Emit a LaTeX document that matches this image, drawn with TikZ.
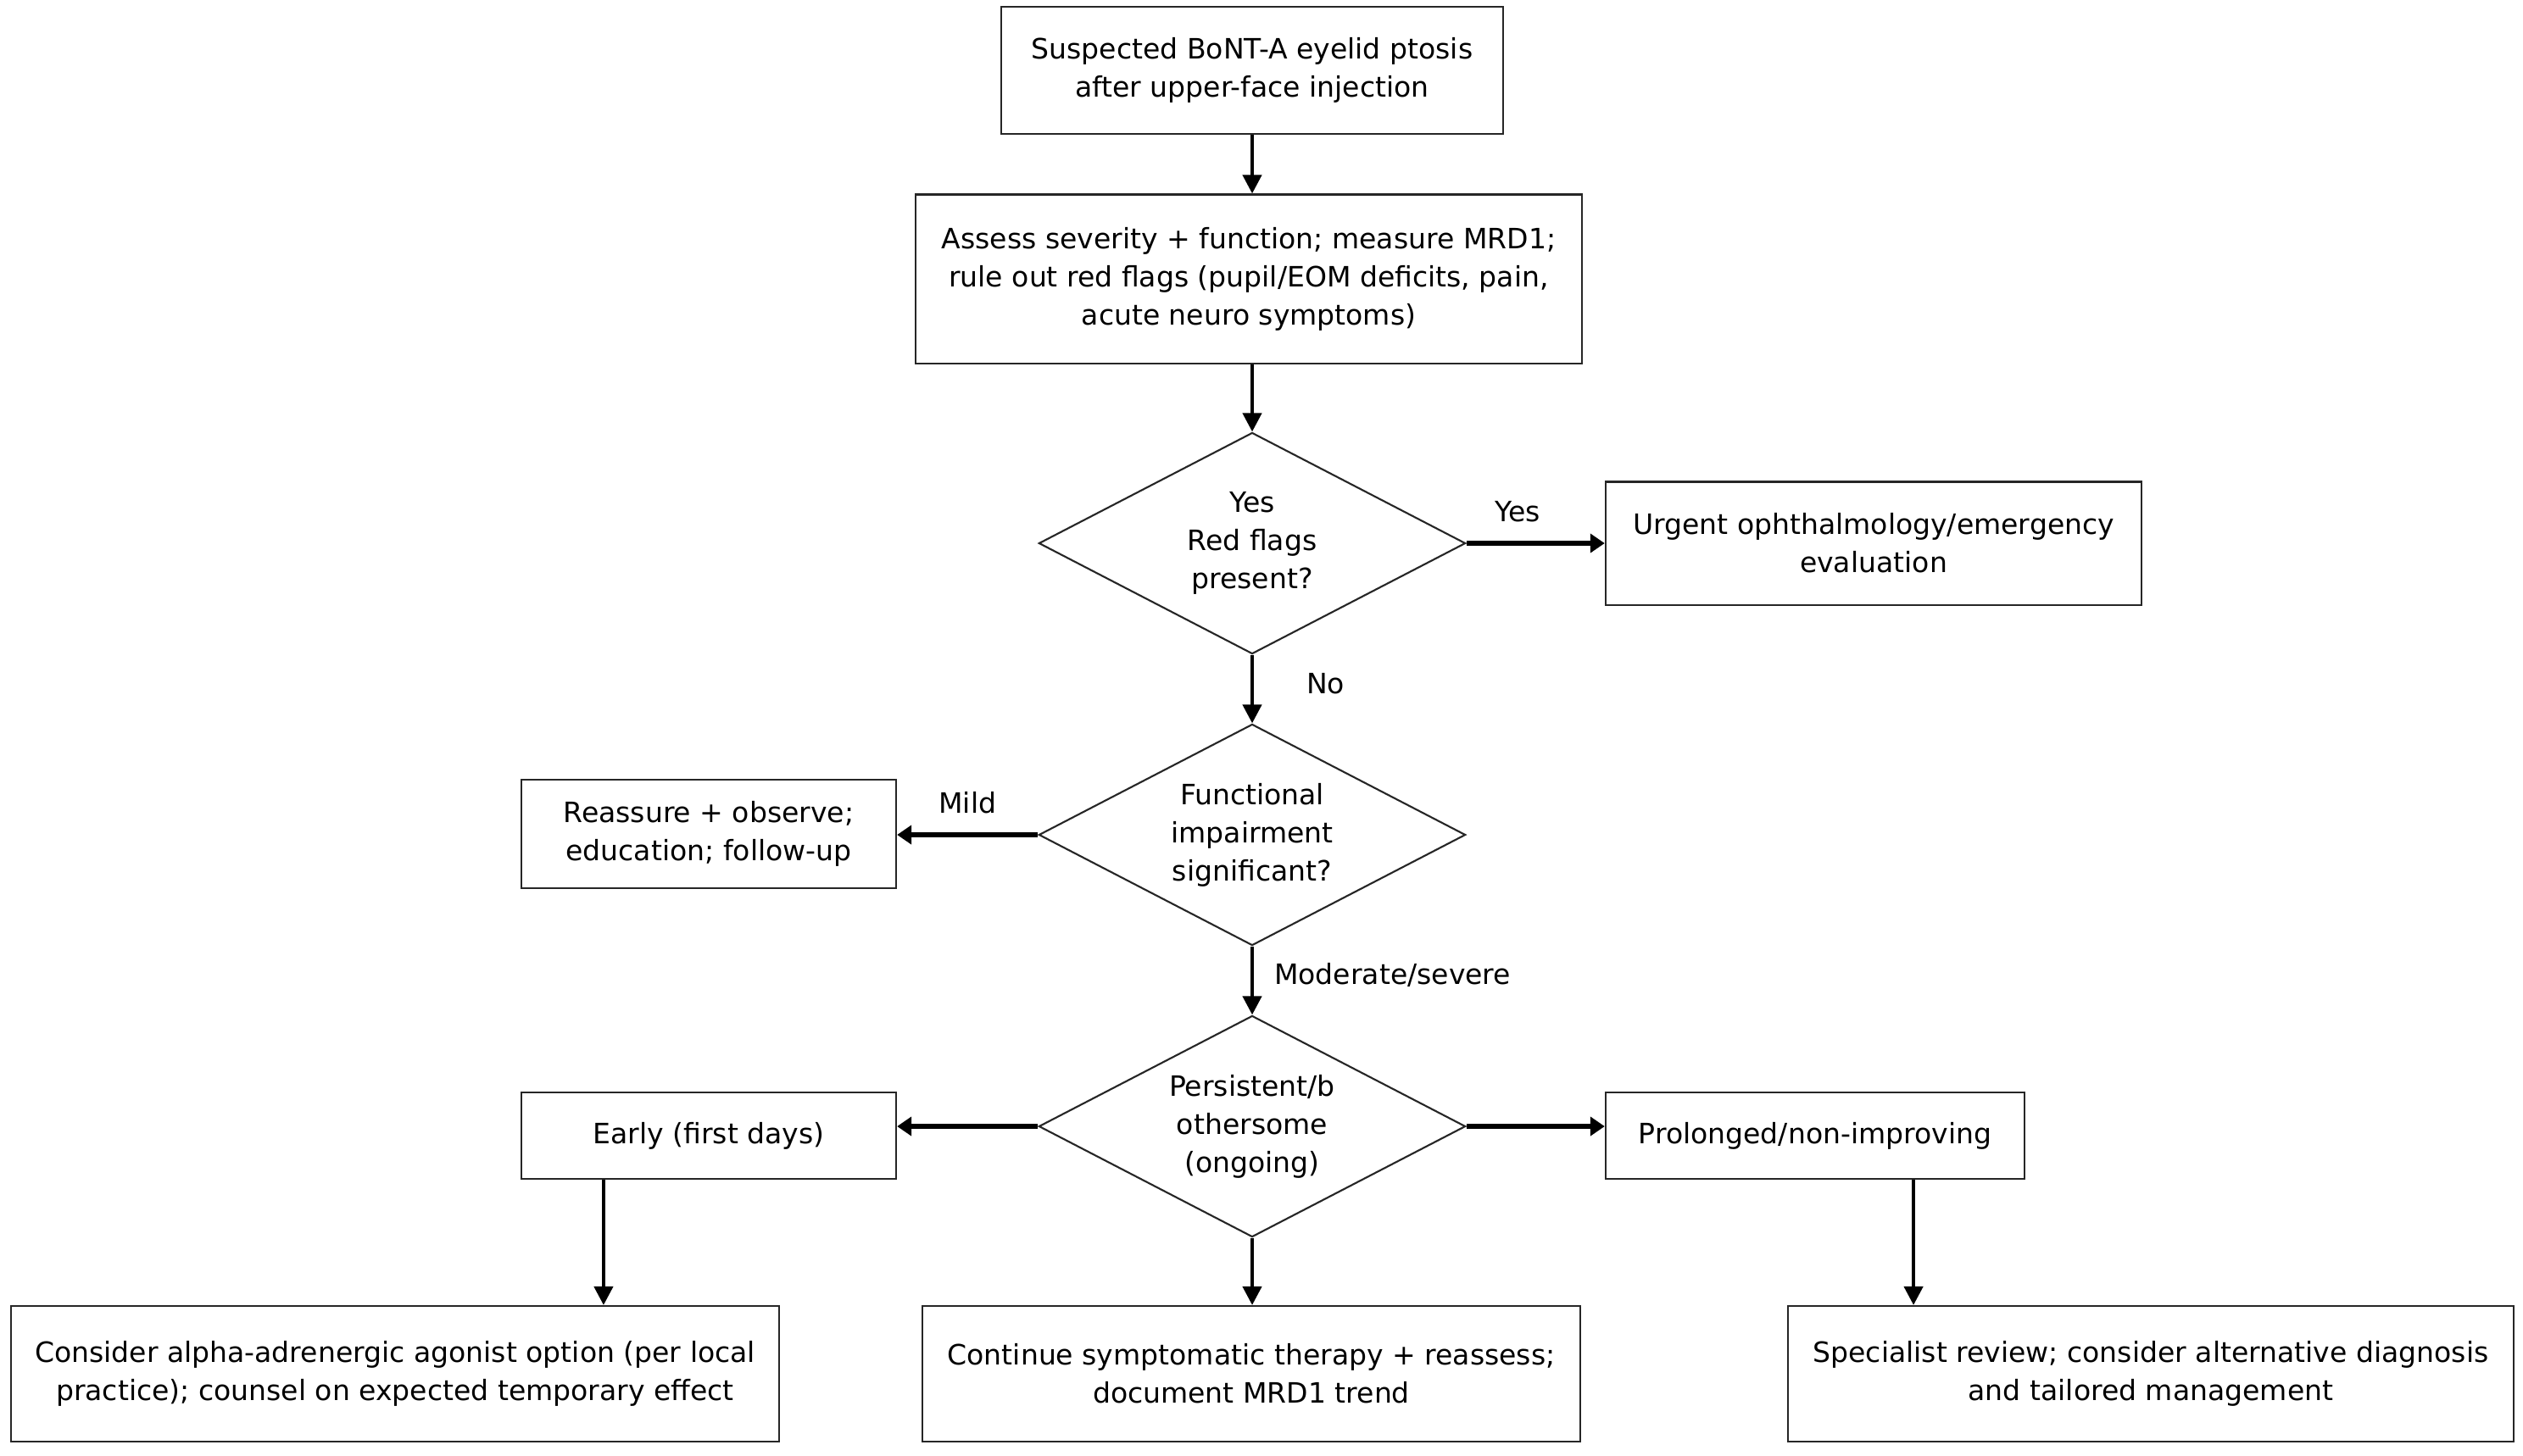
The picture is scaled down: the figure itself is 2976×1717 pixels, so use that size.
\documentclass[tikz,border=0pt]{standalone}
\usepackage{fontspec}
\setmainfont{DejaVu Sans}
\usetikzlibrary{shapes.geometric,arrows.meta}
\begin{document}
\begin{tikzpicture}[x=0.01cm,y=-0.01cm,
  every node/.style={font=\fontsize{9.4}{12.8}\selectfont},
  box/.style={draw=black!85,line width=0.6pt,align=center,inner sep=0pt},
  dec/.style={draw=black!85,line width=0.6pt,diamond,shape aspect=2,align=center,inner sep=0pt,minimum width=5.03cm,minimum height=2.61cm},
  varr/.style={line width=1.2pt,-{Triangle[length=0.22cm,width=0.22cm]}},
  harr/.style={line width=1.6pt,-{Triangle[length=0.17cm,width=0.22cm]}},
  lbl/.style={inner sep=0pt}
]
\useasboundingbox (0,0) rectangle (2976,1717);
\fill[white] (0,0) rectangle (2976,1717);

\node[box,minimum width=5.92cm,minimum height=1.50cm] (n1) at (1477,83) {Suspected BoNT-A eyelid ptosis\\after upper-face injection};
\node[box,minimum width=7.86cm,minimum height=1.99cm] (n2) at (1473,329) {Assess severity + function; measure MRD1;\\rule out red flags (pupil/EOM deficits, pain,\\acute neuro symptoms)};
\node[dec] (d1) at (1477,641) {Yes\\Red flags\\present?};
\node[box,minimum width=6.32cm,minimum height=1.45cm] (urg) at (2210,641) {Urgent ophthalmology/emergency\\evaluation};
\node[dec] (d2) at (1477,985) {Functional\\impairment\\significant?};
\node[box,minimum width=4.42cm,minimum height=1.28cm] (rea) at (836,984) {Reassure + observe;\\education; follow-up};
\node[dec] (d3) at (1477,1329) {Persistent/b\\othersome\\(ongoing)};
\node[box,minimum width=4.42cm,minimum height=1.02cm] (early) at (836,1340) {Early (first days)};
\node[box,minimum width=4.94cm,minimum height=1.02cm] (prol) at (2141,1340) {Prolonged/non-improving};
\node[box,minimum width=9.06cm,minimum height=1.60cm] (b1) at (466,1621) {Consider alpha-adrenergic agonist option (per local\\practice); counsel on expected temporary effect};
\node[box,minimum width=7.76cm,minimum height=1.60cm] (b2) at (1476,1621) {Continue symptomatic therapy + reassess;\\document MRD1 trend};
\node[box,minimum width=8.56cm,minimum height=1.60cm] (b3) at (2537,1621) {Specialist review; consider alternative diagnosis\\and tailored management};

\draw[varr] (n1.south) -- (n1.south |- n2.north);
\draw[varr] (d1.north |- n2.south) -- (d1.north);
\draw[harr] (d1.east) -- node[lbl,above=0.22cm,pos=0.37] {Yes} (urg.west);
\draw[varr] (d1.south) -- node[lbl,right=0.62cm,pos=0.42] {No} (d2.north);
\draw[harr] (d2.west) -- node[lbl,above=0.22cm,pos=0.5] {Mild} (d2.west -| rea.east);
\draw[varr] (d2.south) -- node[lbl,right=0.24cm,pos=0.42] {Moderate/severe} (d3.north);
\draw[harr] (d3.west) -- (d3.west -| early.east);
\draw[harr] (d3.east) -- (d3.east -| prol.west);
\draw[varr] (d3.south) -- (d3.south |- b2.north);
\draw[varr] ([xshift=-1.24cm]early.south) -- ([xshift=-1.24cm]early.south |- b1.north);
\draw[varr] ([xshift=1.16cm]prol.south) -- ([xshift=1.16cm]prol.south |- b3.north);
\end{tikzpicture}
\end{document}
